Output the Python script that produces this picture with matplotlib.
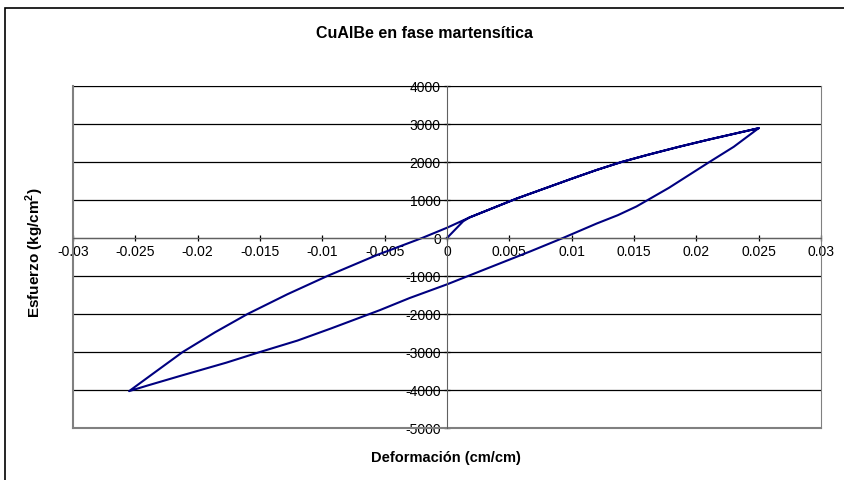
import matplotlib.pyplot as plt
from matplotlib.patches import Rectangle

plt.rcParams['font.family'] = ['Liberation Sans', 'DejaVu Sans']

# first loading from rest onto the upper branch
load_x = [0.0, 0.0013, 0.0018]
load_y = [0, 440, 540]

# upper branch, from the compression tip up to the tension tip
upper_x = [-0.0255, -0.0235, -0.0212, -0.0186, -0.0160, -0.0128, -0.0096,
           -0.0056, -0.0020, 0.0, 0.0018, 0.0056, 0.0100, 0.0120, 0.0140,
           0.0160, 0.0186, 0.0210, 0.0250]
upper_y = [-4030, -3550, -3000, -2480, -2000, -1480, -1000,
           -445, 0, 270, 540, 1040, 1560, 1790, 2000,
           2180, 2400, 2590, 2890]

# lower branch, unloading from the tension tip down to the compression tip
lower_x = [0.0250, 0.0230, 0.0210, 0.0178, 0.0152, 0.0137, 0.0120, 0.0093,
           0.0067, 0.0030, 0.0, -0.0030, -0.0054, -0.0093, -0.0120, -0.0151,
           -0.0177, -0.0213, -0.0240, -0.0255]
lower_y = [2890, 2400, 1990, 1320, 830, 600, 380, 0,
           -350, -830, -1220, -1580, -1900, -2380, -2700, -3010,
           -3280, -3620, -3880, -4030]

x_ticks = [-0.03, -0.025, -0.02, -0.015, -0.01, -0.005, 0, 0.005, 0.01, 0.015, 0.02, 0.025, 0.03]
y_ticks = [-5000, -4000, -3000, -2000, -1000, 0, 1000, 2000, 3000, 4000]

# loading -> unloading -> reloading as one continuous trace
i0 = upper_x.index(0.0018)
path_x = load_x + upper_x[i0 + 1:] + lower_x[1:] + upper_x[1:]
path_y = load_y + upper_y[i0 + 1:] + lower_y[1:] + upper_y[1:]

fig = plt.figure(figsize=(8.44, 4.81), dpi=100)
ax = fig.add_axes([73 / 844, 1 - 429 / 481, 748 / 844, 342 / 481])

# chart frame, running off the right and bottom edges
fig.patches.append(Rectangle((5 / 844, -0.1), 1.2, 1.1 - 9 / 481, transform=fig.transFigure,
                             fill=False, edgecolor='black', linewidth=1.2))

ax.plot(path_x, path_y, color='#000080', linewidth=1.5)

ax.set_xlim(-0.03, 0.03)
ax.set_ylim(-5000, 4000)
ax.set_xticks(x_ticks)
ax.set_xticklabels([f'{v:g}' for v in x_ticks])
ax.set_yticks(y_ticks)
ax.set_yticklabels([str(v) for v in y_ticks])

ax.yaxis.grid(True, color='black', linewidth=0.9)
ax.set_axisbelow(True)

# axes cross at the origin
ax.spines['left'].set_position(('data', 0))
ax.spines['bottom'].set_position(('data', 0))
ax.spines['left'].set_color('#606060')
ax.spines['bottom'].set_color('#606060')
ax.spines['top'].set_color('#808080')
ax.spines['right'].set_color('#808080')
ax.spines['top'].set_zorder(0.5)

# closing lines of the plot area
ax.axhline(-5000, color='#808080', linewidth=1.5, clip_on=False)
ax.axvline(-0.03, color='#808080', linewidth=1.5, clip_on=False)

ax.tick_params(axis='both', direction='inout', length=5, width=0.9, color='black',
               labelsize=10, pad=2)

fig.text(424 / 844, 1 - 34 / 481, 'CuAlBe en fase martensítica', fontsize=11.5,
         fontweight='bold', ha='center', va='center')
fig.text(446 / 844, 1 - 458 / 481, 'Deformación (cm/cm)', fontsize=10.5, fontweight='bold',
         ha='center', va='center')
fig.text(35 / 844, 1 - 253 / 481, 'Esfuerzo (kg/cm$^\\mathregular{2}$)', fontsize=11,
         fontweight='bold', rotation=90, ha='center', va='center')

fig.savefig('out.png', dpi=100)
